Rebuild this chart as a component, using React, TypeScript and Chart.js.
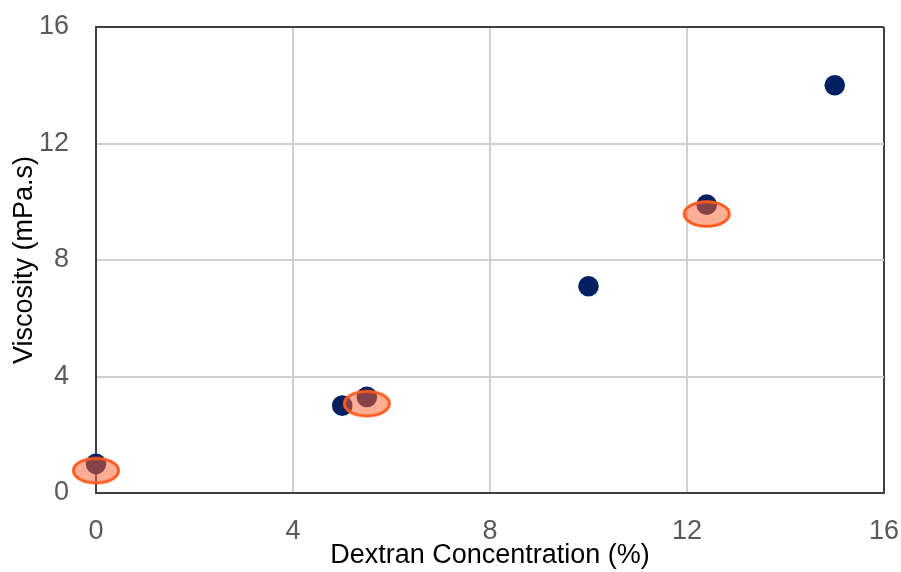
import React, { useEffect, useRef } from "react";
import { Chart, registerables } from "chart.js";

Chart.register(...registerables);

const navyX = [0, 5, 5.5, 10, 12.4, 15];
const navyY = [1.0, 3.0, 3.3, 7.1, 9.9, 14.0];
const ovalX = [0, 5.5, 12.4];
const ovalY = [0.77, 3.07, 9.58];
const xTicks = [0, 4, 8, 12, 16];
const yTicks = [0, 4, 8, 12, 16];
const xTitle = "Dextran Concentration (%)";
const yTitle = "Viscosity (mPa.s)";

function makeOval(): HTMLCanvasElement {
  const c = document.createElement("canvas");
  c.width = 52;
  c.height = 32;
  const g = c.getContext("2d")!;
  g.beginPath();
  g.ellipse(26, 16, 22.5, 12.3, 0, 0, Math.PI * 2);
  g.fillStyle = "rgba(255, 97, 50, 0.52)";
  g.fill();
  g.lineWidth = 3;
  g.strokeStyle = "rgb(255, 90, 30)";
  g.stroke();
  return c;
}

export default function App() {
  const ref = useRef<HTMLCanvasElement | null>(null);
  useEffect(() => {
    document.body.style.margin = "0";
    const font = { family: "'Liberation Sans', Arial, sans-serif", size: 27 };
    const oval = makeOval();
    const gridColor = (last: number) => (ctx: any) =>
      ctx.index === last ? "#404040" : "#d0d0d0";
    const chart = new Chart(ref.current!, {
      type: "scatter",
      data: {
        datasets: [
          {
            data: ovalX.map((x, i) => ({ x, y: ovalY[i] })),
            pointStyle: oval as any,
            clip: false as any,
            order: 0,
          },
          {
            data: navyX.map((x, i) => ({ x, y: navyY[i] })),
            backgroundColor: "#002060",
            borderWidth: 0,
            pointRadius: 10.3,
            clip: false as any,
            order: 1,
          },
        ],
      },
      options: {
        animation: false,
        responsive: false,
        events: [],
        layout: { padding: { top: 27, right: 17, left: 0, bottom: 0 } },
        plugins: { legend: { display: false }, tooltip: { enabled: false } },
        scales: {
          x: {
            type: "linear",
            min: 0,
            max: 16,
            afterBuildTicks: (s: any) => {
              s.ticks = xTicks.map((v) => ({ value: v }));
            },
            afterFit: (s: any) => {
              s.height = 79;
              s.paddingLeft = 0;
              s.paddingRight = 0;
            },
            ticks: { font, color: "#595959", padding: 22, maxRotation: 0 },
            grid: {
              color: gridColor(xTicks.length - 1),
              lineWidth: 2,
              drawTicks: false,
            },
            border: { color: "#404040", width: 2 },
            title: {
              display: true,
              text: xTitle,
              font,
              color: "#000000",
              padding: { top: 0, bottom: 0 },
            },
          },
          y: {
            type: "linear",
            min: 0,
            max: 16,
            afterBuildTicks: (s: any) => {
              s.ticks = yTicks.map((v) => ({ value: v }));
            },
            afterFit: (s: any) => {
              s.width = 96;
              s.paddingTop = 0;
              s.paddingBottom = 0;
            },
            ticks: { font, color: "#595959", padding: 27 },
            grid: {
              color: gridColor(yTicks.length - 1),
              lineWidth: 2,
              drawTicks: false,
            },
            border: { color: "#404040", width: 2 },
            title: {
              display: true,
              text: yTitle,
              font,
              color: "#000000",
              padding: { top: 8, bottom: 0 },
            },
          },
        },
      },
    });
    return () => chart.destroy();
  }, []);
  return (
    <div style={{ position: "fixed", left: 0, top: 0, width: 901, height: 572 }}>
      <canvas ref={ref} width={901} height={572} style={{ width: 901, height: 572 }} />
    </div>
  );
}
